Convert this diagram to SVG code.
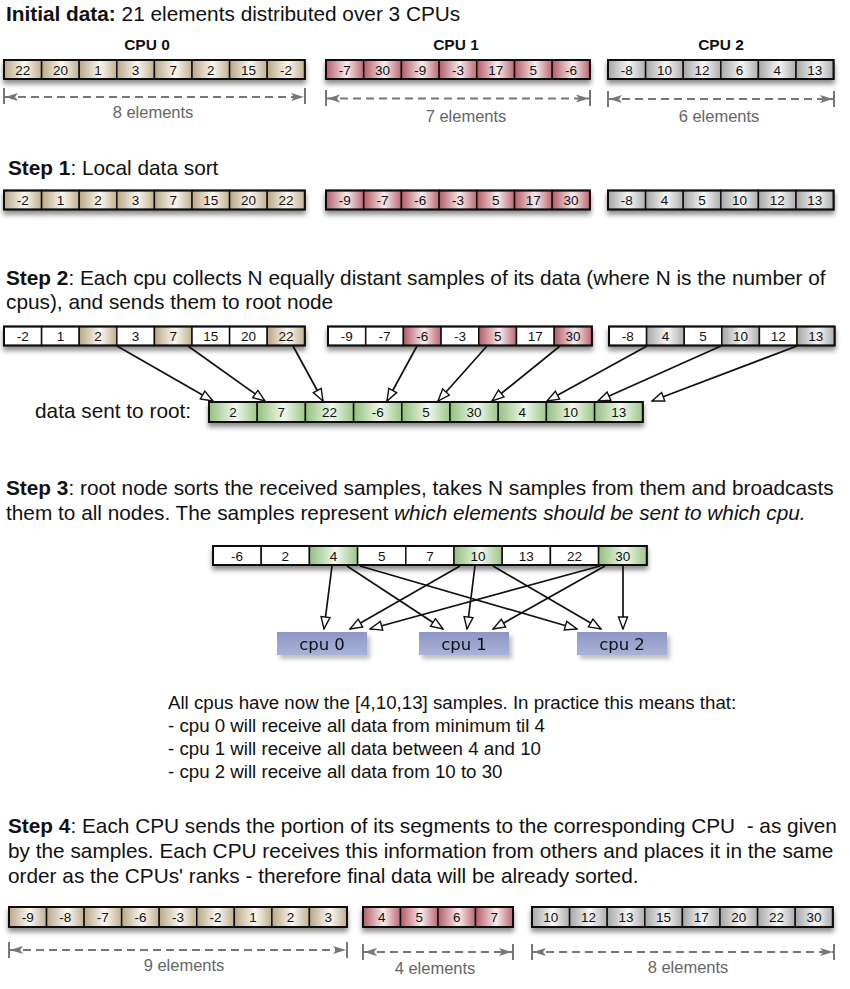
<svg xmlns="http://www.w3.org/2000/svg" width="850" height="989" viewBox="0 0 850 989">
<style>
text{font-family:"Liberation Sans",Arial,Helvetica,sans-serif;fill:#111}
.c{stroke:#111;stroke-width:1.5}
.o{fill:none;stroke:#111;stroke-width:2}
.t{font-size:13.5px;text-anchor:middle}
.h{font-size:20.8px}
.b{font-weight:bold}
.cl{font-size:15.5px;font-weight:bold;text-anchor:middle}
.dim{stroke:#777;stroke-width:2;stroke-dasharray:8 5;fill:none;marker-start:url(#da);marker-end:url(#da)}
.tick{stroke:#777;stroke-width:2}
.dl{font-size:16.5px;fill:#666;text-anchor:middle}
.conn{stroke:#111;stroke-width:1.7;fill:none;marker-end:url(#oa)}
.tx{font-size:18.7px}
.cpu{font-family:"DejaVu Sans",Verdana,sans-serif;font-size:16.5px;text-anchor:middle;fill:#111}
.tan{fill:url(#gTan)}.red{fill:url(#gRed)}.gry{fill:url(#gGry)}.grn{fill:url(#gGrn)}.wht{fill:#fff}
</style>
<defs>
<linearGradient id="gTan" x1="0" y1="0" x2="1" y2="0"><stop offset="0" stop-color="#b9a786"/><stop offset="0.55" stop-color="#fbf8f1"/><stop offset="1" stop-color="#c0af90"/></linearGradient>
<linearGradient id="gRed" x1="0" y1="0" x2="1" y2="0"><stop offset="0" stop-color="#b45a66"/><stop offset="0.55" stop-color="#f8eced"/><stop offset="1" stop-color="#bb6772"/></linearGradient>
<linearGradient id="gGry" x1="0" y1="0" x2="1" y2="0"><stop offset="0" stop-color="#a6a6a6"/><stop offset="0.55" stop-color="#f7f7f7"/><stop offset="1" stop-color="#adadad"/></linearGradient>
<linearGradient id="gGrn" x1="0" y1="0" x2="1" y2="0"><stop offset="0" stop-color="#93bf7e"/><stop offset="0.55" stop-color="#f1f8ed"/><stop offset="1" stop-color="#9cc589"/></linearGradient>
<linearGradient id="gCpu" x1="0" y1="0" x2="0" y2="1"><stop offset="0" stop-color="#8c97c3"/><stop offset="1" stop-color="#a9b2d8"/></linearGradient>
<filter id="sh" x="-5%" y="-50%" width="110%" height="220%"><feDropShadow dx="0" dy="4" stdDeviation="2.5" flood-color="#000" flood-opacity="0.45"/></filter>
<filter id="sh2" x="-10%" y="-30%" width="130%" height="180%"><feDropShadow dx="3" dy="4" stdDeviation="2" flood-color="#000" flood-opacity="0.25"/></filter>
<marker id="oa" markerUnits="userSpaceOnUse" markerWidth="14" markerHeight="12" refX="13" refY="5.5" orient="auto" viewBox="0 0 14 12"><path d="M1,1 L13,5.5 L1,10 z" fill="#fff" stroke="#111" stroke-width="1.4"/></marker>
<marker id="da" markerUnits="userSpaceOnUse" markerWidth="14" markerHeight="10" refX="13" refY="5" orient="auto-start-reverse" viewBox="0 0 14 10"><path d="M0,1 L13,5 L0,9 L3,5 z" fill="#777"/></marker>
</defs>
<rect width="850" height="989" fill="#fff"/>

<g id="title">
<text class="h" x="6" y="21"><tspan class="b">Initial data:</tspan> 21 elements distributed over 3 CPUs</text>
<text class="cl" x="147" y="50">CPU 0</text>
<text class="cl" x="456" y="50">CPU 1</text>
<text class="cl" x="721" y="50">CPU 2</text>
</g>

<g id="init-cpu0" filter="url(#sh)">
<rect class="c tan" x="4" y="60" width="37.6" height="19"/><rect class="c tan" x="41.6" y="60" width="37.6" height="19"/><rect class="c tan" x="79.2" y="60" width="37.6" height="19"/><rect class="c tan" x="116.8" y="60" width="37.6" height="19"/><rect class="c tan" x="154.4" y="60" width="37.6" height="19"/><rect class="c tan" x="192" y="60" width="37.6" height="19"/><rect class="c tan" x="229.6" y="60" width="37.6" height="19"/><rect class="c tan" x="267.2" y="60" width="37.6" height="19"/>
<rect class="o" x="4" y="60" width="300.8" height="19"/>
</g>
<g id="init-cpu0-text"><text class="t" x="22.8" y="74.5">22</text><text class="t" x="60.4" y="74.5">20</text><text class="t" x="98" y="74.5">1</text><text class="t" x="135.6" y="74.5">3</text><text class="t" x="173.2" y="74.5">7</text><text class="t" x="210.8" y="74.5">2</text><text class="t" x="248.4" y="74.5">15</text><text class="t" x="286" y="74.5">-2</text></g>

<g id="init-cpu1" filter="url(#sh)">
<rect class="c red" x="326" y="60" width="37.7" height="19"/><rect class="c red" x="363.7" y="60" width="37.7" height="19"/><rect class="c red" x="401.4" y="60" width="37.7" height="19"/><rect class="c red" x="439.1" y="60" width="37.7" height="19"/><rect class="c red" x="476.8" y="60" width="37.7" height="19"/><rect class="c red" x="514.5" y="60" width="37.7" height="19"/><rect class="c red" x="552.2" y="60" width="37.7" height="19"/>
<rect class="o" x="326" y="60" width="263.9" height="19"/>
</g>
<g id="init-cpu1-text"><text class="t" x="344.85" y="74.5">-7</text><text class="t" x="382.55" y="74.5">30</text><text class="t" x="420.25" y="74.5">-9</text><text class="t" x="457.95" y="74.5">-3</text><text class="t" x="495.65" y="74.5">17</text><text class="t" x="533.35" y="74.5">5</text><text class="t" x="571.05" y="74.5">-6</text></g>

<g id="init-cpu2" filter="url(#sh)">
<rect class="c gry" x="608" y="60" width="37.6" height="19"/><rect class="c gry" x="645.6" y="60" width="37.6" height="19"/><rect class="c gry" x="683.2" y="60" width="37.6" height="19"/><rect class="c gry" x="720.8" y="60" width="37.6" height="19"/><rect class="c gry" x="758.4" y="60" width="37.6" height="19"/><rect class="c gry" x="796" y="60" width="37.6" height="19"/>
<rect class="o" x="608" y="60" width="225.6" height="19"/>
</g>
<g id="init-cpu2-text"><text class="t" x="626.8" y="74.5">-8</text><text class="t" x="664.4" y="74.5">10</text><text class="t" x="702" y="74.5">12</text><text class="t" x="739.6" y="74.5">6</text><text class="t" x="777.2" y="74.5">4</text><text class="t" x="814.8" y="74.5">13</text></g>

<g id="dims-top">
<line class="tick" x1="4" y1="88" x2="4" y2="104"/><line class="tick" x1="305" y1="88" x2="305" y2="104"/>
<line class="dim" x1="5" y1="97" x2="304" y2="97"/>
<text class="dl" x="153" y="118">8 elements</text>
<line class="tick" x1="326" y1="90" x2="326" y2="106"/><line class="tick" x1="590" y1="90" x2="590" y2="106"/>
<line class="dim" x1="327" y1="98.5" x2="589" y2="98.5"/>
<text class="dl" x="466" y="121.5">7 elements</text>
<line class="tick" x1="608" y1="91" x2="608" y2="107"/><line class="tick" x1="834" y1="91" x2="834" y2="107"/>
<line class="dim" x1="609" y1="99" x2="833" y2="99"/>
<text class="dl" x="719" y="122">6 elements</text>
</g>

<g id="step1-title"><text class="h" x="8" y="175"><tspan class="b">Step 1</tspan>: Local data sort</text></g>

<g id="s1-cpu0" filter="url(#sh)">
<rect class="c tan" x="4" y="190.5" width="37.6" height="19"/><rect class="c tan" x="41.6" y="190.5" width="37.6" height="19"/><rect class="c tan" x="79.2" y="190.5" width="37.6" height="19"/><rect class="c tan" x="116.8" y="190.5" width="37.6" height="19"/><rect class="c tan" x="154.4" y="190.5" width="37.6" height="19"/><rect class="c tan" x="192" y="190.5" width="37.6" height="19"/><rect class="c tan" x="229.6" y="190.5" width="37.6" height="19"/><rect class="c tan" x="267.2" y="190.5" width="37.6" height="19"/>
<rect class="o" x="4" y="190.5" width="300.8" height="19"/>
</g>
<g id="s1-cpu0-text"><text class="t" x="22.8" y="205">-2</text><text class="t" x="60.4" y="205">1</text><text class="t" x="98" y="205">2</text><text class="t" x="135.6" y="205">3</text><text class="t" x="173.2" y="205">7</text><text class="t" x="210.8" y="205">15</text><text class="t" x="248.4" y="205">20</text><text class="t" x="286" y="205">22</text></g>

<g id="s1-cpu1" filter="url(#sh)">
<rect class="c red" x="326" y="190.5" width="37.7" height="19"/><rect class="c red" x="363.7" y="190.5" width="37.7" height="19"/><rect class="c red" x="401.4" y="190.5" width="37.7" height="19"/><rect class="c red" x="439.1" y="190.5" width="37.7" height="19"/><rect class="c red" x="476.8" y="190.5" width="37.7" height="19"/><rect class="c red" x="514.5" y="190.5" width="37.7" height="19"/><rect class="c red" x="552.2" y="190.5" width="37.7" height="19"/>
<rect class="o" x="326" y="190.5" width="263.9" height="19"/>
</g>
<g id="s1-cpu1-text"><text class="t" x="344.85" y="205">-9</text><text class="t" x="382.55" y="205">-7</text><text class="t" x="420.25" y="205">-6</text><text class="t" x="457.95" y="205">-3</text><text class="t" x="495.65" y="205">5</text><text class="t" x="533.35" y="205">17</text><text class="t" x="571.05" y="205">30</text></g>

<g id="s1-cpu2" filter="url(#sh)">
<rect class="c gry" x="608" y="190.5" width="37.6" height="19"/><rect class="c gry" x="645.6" y="190.5" width="37.6" height="19"/><rect class="c gry" x="683.2" y="190.5" width="37.6" height="19"/><rect class="c gry" x="720.8" y="190.5" width="37.6" height="19"/><rect class="c gry" x="758.4" y="190.5" width="37.6" height="19"/><rect class="c gry" x="796" y="190.5" width="37.6" height="19"/>
<rect class="o" x="608" y="190.5" width="225.6" height="19"/>
</g>
<g id="s1-cpu2-text"><text class="t" x="626.8" y="205">-8</text><text class="t" x="664.4" y="205">4</text><text class="t" x="702" y="205">5</text><text class="t" x="739.6" y="205">10</text><text class="t" x="777.2" y="205">12</text><text class="t" x="814.8" y="205">13</text></g>

<g id="step2-title">
<text class="h" x="6" y="285"><tspan class="b">Step 2</tspan>: Each cpu collects N equally distant samples of its data (where N is the number of</text>
<text class="h" x="6" y="309">cpus), and sends them to root node</text>
</g>

<g id="s2-cpu0" filter="url(#sh)">
<rect class="c wht" x="4" y="326.5" width="37.6" height="19"/><rect class="c wht" x="41.6" y="326.5" width="37.6" height="19"/><rect class="c tan" x="79.2" y="326.5" width="37.6" height="19"/><rect class="c wht" x="116.8" y="326.5" width="37.6" height="19"/><rect class="c tan" x="154.4" y="326.5" width="37.6" height="19"/><rect class="c wht" x="192" y="326.5" width="37.6" height="19"/><rect class="c wht" x="229.6" y="326.5" width="37.6" height="19"/><rect class="c tan" x="267.2" y="326.5" width="37.6" height="19"/>
<rect class="o" x="4" y="326.5" width="300.8" height="19"/>
</g>
<g id="s2-cpu0-text"><text class="t" x="22.8" y="341">-2</text><text class="t" x="60.4" y="341">1</text><text class="t" x="98" y="341">2</text><text class="t" x="135.6" y="341">3</text><text class="t" x="173.2" y="341">7</text><text class="t" x="210.8" y="341">15</text><text class="t" x="248.4" y="341">20</text><text class="t" x="286" y="341">22</text></g>

<g id="s2-cpu1" filter="url(#sh)">
<rect class="c wht" x="328" y="326.5" width="37.7" height="19"/><rect class="c wht" x="365.7" y="326.5" width="37.7" height="19"/><rect class="c red" x="403.4" y="326.5" width="37.7" height="19"/><rect class="c wht" x="441.1" y="326.5" width="37.7" height="19"/><rect class="c red" x="478.8" y="326.5" width="37.7" height="19"/><rect class="c wht" x="516.5" y="326.5" width="37.7" height="19"/><rect class="c red" x="554.2" y="326.5" width="37.7" height="19"/>
<rect class="o" x="328" y="326.5" width="263.9" height="19"/>
</g>
<g id="s2-cpu1-text"><text class="t" x="346.85" y="341">-9</text><text class="t" x="384.55" y="341">-7</text><text class="t" x="422.25" y="341">-6</text><text class="t" x="459.95" y="341">-3</text><text class="t" x="497.65" y="341">5</text><text class="t" x="535.35" y="341">17</text><text class="t" x="573.05" y="341">30</text></g>

<g id="s2-cpu2" filter="url(#sh)">
<rect class="c wht" x="609" y="326.5" width="37.6" height="19"/><rect class="c gry" x="646.6" y="326.5" width="37.6" height="19"/><rect class="c wht" x="684.2" y="326.5" width="37.6" height="19"/><rect class="c gry" x="721.8" y="326.5" width="37.6" height="19"/><rect class="c wht" x="759.4" y="326.5" width="37.6" height="19"/><rect class="c gry" x="797" y="326.5" width="37.6" height="19"/>
<rect class="o" x="609" y="326.5" width="225.6" height="19"/>
</g>
<g id="s2-cpu2-text"><text class="t" x="627.8" y="341">-8</text><text class="t" x="665.4" y="341">4</text><text class="t" x="703" y="341">5</text><text class="t" x="740.6" y="341">10</text><text class="t" x="778.2" y="341">12</text><text class="t" x="815.8" y="341">13</text></g>

<g id="root-label"><text class="h" x="35" y="418">data sent to root:</text></g>
<g id="root-array" filter="url(#sh)">
<rect class="c grn" x="209" y="402" width="48.2" height="20"/><rect class="c grn" x="257.2" y="402" width="48.2" height="20"/><rect class="c grn" x="305.4" y="402" width="48.2" height="20"/><rect class="c grn" x="353.6" y="402" width="48.2" height="20"/><rect class="c grn" x="401.8" y="402" width="48.2" height="20"/><rect class="c grn" x="450" y="402" width="48.2" height="20"/><rect class="c grn" x="498.2" y="402" width="48.2" height="20"/><rect class="c grn" x="546.4" y="402" width="48.2" height="20"/><rect class="c grn" x="594.6" y="402" width="48.2" height="20"/>
<rect class="o" x="209" y="402" width="433.8" height="20"/>
</g>
<g id="root-array-text"><text class="t" x="233.1" y="417">2</text><text class="t" x="281.3" y="417">7</text><text class="t" x="329.5" y="417">22</text><text class="t" x="377.7" y="417">-6</text><text class="t" x="425.9" y="417">5</text><text class="t" x="474.1" y="417">30</text><text class="t" x="522.3" y="417">4</text><text class="t" x="570.5" y="417">10</text><text class="t" x="618.7" y="417">13</text></g>

<g id="step2-connectors">
<line class="conn" x1="117" y1="346" x2="213" y2="401"/>
<line class="conn" x1="188" y1="346" x2="265" y2="401"/>
<line class="conn" x1="293" y1="346" x2="323" y2="401"/>
<line class="conn" x1="417" y1="346" x2="387" y2="401"/>
<line class="conn" x1="487" y1="346" x2="438" y2="401"/>
<line class="conn" x1="560" y1="346" x2="492" y2="401"/>
<line class="conn" x1="647" y1="346" x2="547" y2="401"/>
<line class="conn" x1="721" y1="346" x2="598" y2="401"/>
<line class="conn" x1="797" y1="346" x2="652" y2="401"/>
</g>

<g id="step3-title">
<text class="h" x="6" y="495"><tspan class="b">Step 3</tspan>: root node sorts the received samples, takes N samples from them and broadcasts</text>
<text class="h" x="6" y="520">them to all nodes. The samples represent <tspan font-style="italic">which elements should be sent to which cpu.</tspan></text>
</g>

<g id="sorted-samples" filter="url(#sh)">
<rect class="c wht" x="213" y="546" width="48.2" height="19"/><rect class="c wht" x="261.2" y="546" width="48.2" height="19"/><rect class="c grn" x="309.4" y="546" width="48.2" height="19"/><rect class="c wht" x="357.6" y="546" width="48.2" height="19"/><rect class="c wht" x="405.8" y="546" width="48.2" height="19"/><rect class="c grn" x="454" y="546" width="48.2" height="19"/><rect class="c wht" x="502.2" y="546" width="48.2" height="19"/><rect class="c wht" x="550.4" y="546" width="48.2" height="19"/><rect class="c grn" x="598.6" y="546" width="48.2" height="19"/>
<rect class="o" x="213" y="546" width="433.8" height="19"/>
</g>
<g id="sorted-samples-text"><text class="t" x="237.1" y="561">-6</text><text class="t" x="285.3" y="561">2</text><text class="t" x="333.5" y="561">4</text><text class="t" x="381.7" y="561">5</text><text class="t" x="429.9" y="561">7</text><text class="t" x="478.1" y="561">10</text><text class="t" x="526.3" y="561">13</text><text class="t" x="574.5" y="561">22</text><text class="t" x="622.7" y="561">30</text></g>

<g id="cpu0" filter="url(#sh2)"><rect x="277" y="632" width="90" height="23" fill="url(#gCpu)"/><text class="cpu" x="322" y="650">cpu 0</text></g>
<g id="cpu1" filter="url(#sh2)"><rect x="419" y="632" width="90" height="23" fill="url(#gCpu)"/><text class="cpu" x="464" y="650">cpu 1</text></g>
<g id="cpu2" filter="url(#sh2)"><rect x="577" y="632" width="90" height="23" fill="url(#gCpu)"/><text class="cpu" x="622" y="650">cpu 2</text></g>

<g id="step3-connectors">
<line class="conn" x1="332" y1="566" x2="324" y2="629"/>
<line class="conn" x1="347" y1="566" x2="443" y2="629"/>
<line class="conn" x1="360" y1="566" x2="577" y2="629"/>
<line class="conn" x1="460" y1="566" x2="350" y2="629"/>
<line class="conn" x1="475" y1="566" x2="467" y2="629"/>
<line class="conn" x1="493" y1="566" x2="601" y2="629"/>
<line class="conn" x1="600" y1="566" x2="370" y2="629"/>
<line class="conn" x1="605" y1="566" x2="493" y2="629"/>
<line class="conn" x1="623" y1="566" x2="623" y2="629"/>
</g>

<g id="explanation">
<text class="tx" x="168" y="709">All cpus have now the [4,10,13] samples. In practice this means that:</text>
<text class="tx" x="168" y="732">- cpu 0 will receive all data from minimum til 4</text>
<text class="tx" x="168" y="755">- cpu 1 will receive all data between 4 and 10</text>
<text class="tx" x="168" y="778">- cpu 2 will receive all data from 10 to 30</text>
</g>

<g id="step4-title">
<text class="h" x="8" y="833" style="white-space:pre"><tspan class="b">Step 4</tspan>: Each CPU sends the portion of its segments to the corresponding CPU  - as given</text>
<text class="h" x="8" y="858">by the samples. Each CPU receives this information from others and places it in the same</text>
<text class="h" x="8" y="883">order as the CPUs' ranks - therefore final data will be already sorted.</text>
</g>

<g id="final-cpu0" filter="url(#sh)">
<rect class="c tan" x="9" y="907" width="37.55" height="20"/><rect class="c tan" x="46.55" y="907" width="37.55" height="20"/><rect class="c tan" x="84.1" y="907" width="37.55" height="20"/><rect class="c tan" x="121.65" y="907" width="37.55" height="20"/><rect class="c tan" x="159.2" y="907" width="37.55" height="20"/><rect class="c tan" x="196.75" y="907" width="37.55" height="20"/><rect class="c tan" x="234.3" y="907" width="37.55" height="20"/><rect class="c tan" x="271.85" y="907" width="37.55" height="20"/><rect class="c tan" x="309.4" y="907" width="37.55" height="20"/>
<rect class="o" x="9" y="907" width="337.95" height="20"/>
</g>
<g id="final-cpu0-text"><text class="t" x="27.78" y="922">-9</text><text class="t" x="65.33" y="922">-8</text><text class="t" x="102.88" y="922">-7</text><text class="t" x="140.43" y="922">-6</text><text class="t" x="177.98" y="922">-3</text><text class="t" x="215.53" y="922">-2</text><text class="t" x="253.08" y="922">1</text><text class="t" x="290.63" y="922">2</text><text class="t" x="328.18" y="922">3</text></g>

<g id="final-cpu1" filter="url(#sh)">
<rect class="c red" x="363" y="907" width="37.5" height="20"/><rect class="c red" x="400.5" y="907" width="37.5" height="20"/><rect class="c red" x="438" y="907" width="37.5" height="20"/><rect class="c red" x="475.5" y="907" width="37.5" height="20"/>
<rect class="o" x="363" y="907" width="150" height="20"/>
</g>
<g id="final-cpu1-text"><text class="t" x="381.75" y="922">4</text><text class="t" x="419.25" y="922">5</text><text class="t" x="456.75" y="922">6</text><text class="t" x="494.25" y="922">7</text></g>

<g id="final-cpu2" filter="url(#sh)">
<rect class="c gry" x="532" y="907" width="37.6" height="20"/><rect class="c gry" x="569.6" y="907" width="37.6" height="20"/><rect class="c gry" x="607.2" y="907" width="37.6" height="20"/><rect class="c gry" x="644.8" y="907" width="37.6" height="20"/><rect class="c gry" x="682.4" y="907" width="37.6" height="20"/><rect class="c gry" x="720" y="907" width="37.6" height="20"/><rect class="c gry" x="757.6" y="907" width="37.6" height="20"/><rect class="c gry" x="795.2" y="907" width="37.6" height="20"/>
<rect class="o" x="532" y="907" width="300.8" height="20"/>
</g>
<g id="final-cpu2-text"><text class="t" x="550.8" y="922">10</text><text class="t" x="588.4" y="922">12</text><text class="t" x="626" y="922">13</text><text class="t" x="663.6" y="922">15</text><text class="t" x="701.2" y="922">17</text><text class="t" x="738.8" y="922">20</text><text class="t" x="776.4" y="922">22</text><text class="t" x="814" y="922">30</text></g>

<g id="dims-bottom">
<line class="tick" x1="9" y1="942" x2="9" y2="958"/><line class="tick" x1="347" y1="942" x2="347" y2="958"/>
<line class="dim" x1="10" y1="950" x2="346" y2="950"/>
<text class="dl" x="184" y="971">9 elements</text>
<line class="tick" x1="363" y1="944" x2="363" y2="960"/><line class="tick" x1="513" y1="944" x2="513" y2="960"/>
<line class="dim" x1="364" y1="952" x2="512" y2="952"/>
<text class="dl" x="435" y="974">4 elements</text>
<line class="tick" x1="532" y1="944" x2="532" y2="960"/><line class="tick" x1="834" y1="944" x2="834" y2="960"/>
<line class="dim" x1="533" y1="952" x2="833" y2="952"/>
<text class="dl" x="688" y="973">8 elements</text>
</g>
</svg>
